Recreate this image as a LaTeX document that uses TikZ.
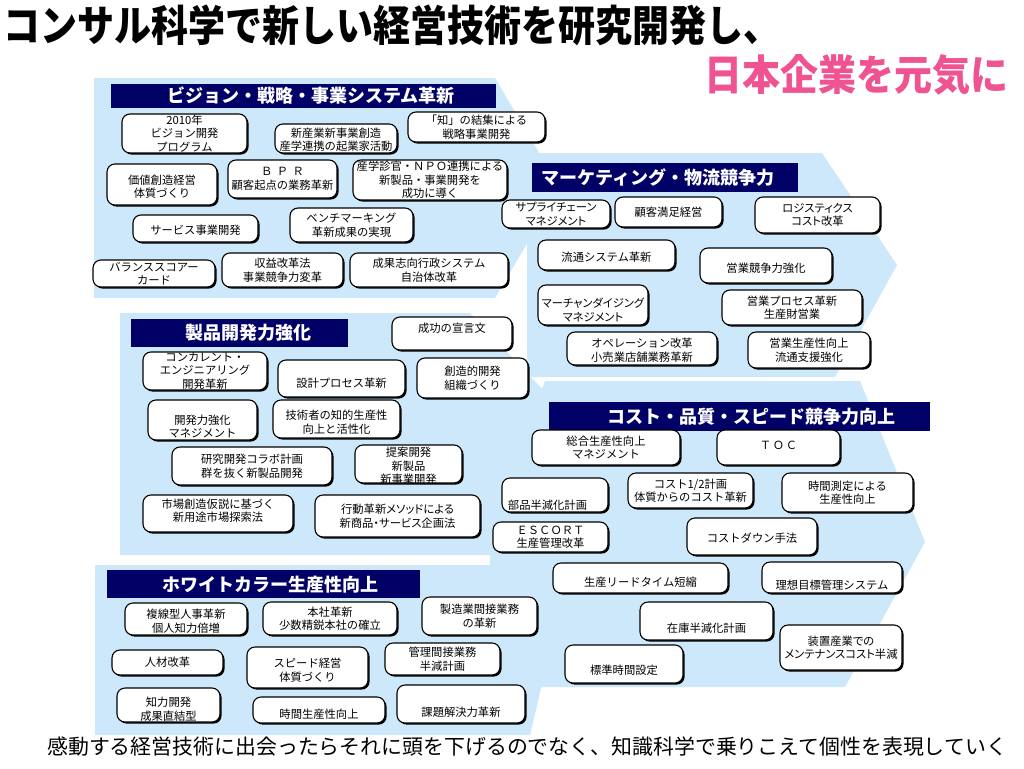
\documentclass[tikz,border=0pt]{standalone}
\usepackage{fontspec}
\usetikzlibrary{shadows}
\newfontfamily\jp{Noto Sans CJK JP}
\newfontfamily\jpp[RawFeature=+palt]{Noto Sans CJK JP}
\definecolor{lb}{RGB}{204,232,250}
\definecolor{navy}{RGB}{0,0,102}
\definecolor{pinkt}{RGB}{239,83,146}
\tikzset{
 bgshape/.style={fill=lb, draw=none},
 jbox/.style={draw=black, line width=1.1pt, fill=white, rounded corners=8pt, inner sep=0pt,
   drop shadow={shadow xshift=1.6pt, shadow yshift=-1.6pt, opacity=1, fill=black}},
 jtxt/.style={font=\jp\fontsize{11.3}{13.5}\selectfont, align=center, inner sep=0pt},
 pp/.style={font=\jpp\fontsize{11.3}{13.5}\selectfont},
 hdr/.style={fill=navy, draw=none, inner sep=0pt},
 htxt/.style={font=\jp\bfseries\fontsize{18}{20}\selectfont, text=white, inner sep=0pt},
}
\newcommand\mybox[7][]{%
 \node[jbox, minimum width={#5-#3}, minimum height={#6-#4}] (#2) at ({(#3+#5)/2},{(#4+#6)/2}) {};
 \node[jtxt,#1] (#2t) at (#2.center) {#7};
}
\newcommand\myhdr[8]{%
 \node[hdr, minimum width={#4-#2}, minimum height={#5-#3}] (#1) at ({(#2+#4)/2},{(#3+#5)/2}) {};
 \node[htxt] (#1t) at (#6,#7) {#8};
}
\begin{document}
\begin{tikzpicture}[x=1pt,y=-1pt]
\useasboundingbox (0,0) rectangle (1024,768);
\fill[white] (0,0) rectangle (1024,768);
% background arrows
\fill[bgshape] (94,78) -- (495,78) -- (560,188) -- (495,298) -- (94,298) -- cycle;
\fill[bgshape] (527,153) -- (822,153) -- (897,265) -- (835,377) -- (527,377) -- cycle;
\fill[bgshape] (120,313) -- (470,313) -- (585,434) -- (498,555) -- (120,555) -- cycle;
\fill[bgshape] (545,381) -- (860,381) -- (925,542) -- (845,687) -- (490,687) -- (490,520) -- cycle;
\fill[bgshape] (95,565) -- (510,565) -- (550,650) -- (530,735) -- (95,735) -- cycle;

% titles
\node[anchor=west, inner sep=0pt, font=\jp\bfseries\fontsize{37}{40}\selectfont] (title) at (3,25) {\scalebox{1}[1.15]{コンサル科学で新しい経営技術を研究開発し、}};
\node[anchor=west, inner sep=0pt, text=pinkt, font=\jp\bfseries\fontsize{38}{40}\selectfont] (sub) at (704,75) {\scalebox{1}[1.1]{日本企業を元気に}};
\node[anchor=west, inner sep=0pt, font=\jp\fontsize{20.9}{24}\selectfont] (foot) at (47,747) {感動する経営技術に出会ったらそれに頭を下げるのでなく、知識科学で乗りこえて個性を表現していく};

% Vision
\myhdr{hv}{111}{84}{496}{108}{311}{96}{ビジョン・戦略・事業システム革新}
\mybox{v1}{122}{114}{247}{153}{2010年\\ビジョン開発\\プログラム}
\mybox[yshift=-1pt]{v2}{275}{124}{397}{153}{新産業新事業創造\\産学連携の起業家活動}
\mybox{v3}{408}{112}{545}{142}{「知」の結集による\\戦略事業開発}
\mybox[yshift=-2pt]{v4}{107}{164}{217}{205}{価値創造経営\\体質づくり}
\mybox{v5}{228}{160}{337}{198}{Ｂ\hspace{4.5pt}Ｐ\hspace{4.5pt}Ｒ\\顧客起点の業務革新}
\mybox{v6}{353}{160}{507}{200}{産学診官・ＮＰＯ連携による\\新製品・事業開発を\\成功に導く}
\mybox[yshift=-1.5pt]{v7}{133}{215}{258}{242}{サービス事業開発}
\mybox{v8}{290}{208}{413}{242}{ベンチマーキング\\革新成果の実現}
\mybox{v9}{93}{260}{215}{287}{バランススコアー\\カード}
\mybox{v10}{222}{253}{343}{287}{収益改革法\\事業競争力変革}
\mybox{v11}{350}{253}{508}{287}{成果志向行政システム\\自治体改革}

% Marketing
\myhdr{hm}{532}{163}{798}{192}{658}{178}{マーケティング・物流競争力}
\mybox[pp]{m1}{502}{200}{610}{228}{サプライチェーン\\マネジメント}
\mybox{m2}{615}{197}{722}{227}{顧客満足経営}
\mybox[pp]{m3}{755}{197}{880}{233}{ロジスティクス\\コスト改革}
\mybox[yshift=-2pt]{m4}{538}{240}{675}{270}{流通システム革新}
\mybox[yshift=-2.5pt]{m5}{700}{248}{832}{283}{営業競争力強化}
\mybox[pp,yshift=-5pt]{m6}{538}{285}{648}{325}{マーチャンダイジング\\マネジメント}
\mybox{m7}{722}{290}{862}{325}{営業プロセス革新\\生産財営業}
\mybox[yshift=-1.5pt]{m8}{567}{332}{717}{365}{オペレーション改革\\小売業店舗業務革新}
\mybox{m9}{748}{332}{870}{368}{営業生産性向上\\流通支援強化}

% Product
\myhdr{hp}{131}{319}{348}{347}{248}{333}{製品開発力強化}
\mybox[yshift=5.5pt]{p1}{392}{317}{512}{350}{成功の宣言文}
\mybox{p2}{143}{352}{267}{390}{コンカレント・\\エンジニアリング\\開発革新}
\mybox[yshift=-4.5pt]{p3}{278}{360}{405}{397}{設計プロセス革新}
\mybox{p4}{417}{358}{528}{398}{創造的開発\\組織づくり}
\mybox[yshift=-6.5pt]{p5}{148}{400}{257}{440}{開発力強化\\マネジメント}
\mybox[yshift=-3pt]{p6}{273}{400}{400}{438}{技術者の知的生産性\\向上と活性化}
\mybox{p7}{172}{447}{332}{485}{研究開発コラボ計画\\群を抜く新製品開発}
\mybox[yshift=-2pt]{p8}{355}{445}{462}{483}{提案開発\\新製品\\新事業開発}
\mybox[yshift=3pt]{p9}{143}{495}{293}{532}{市場創造仮説に基づく\\新用途市場探索法}
\mybox[pp]{p10}{315}{495}{480}{537}{行動革新メソッドによる\\新商品・サービス企画法}

% Cost
\myhdr{hc}{549}{402}{930}{431}{751}{417}{コスト・品質・スピード競争力向上}
\mybox{c1}{532}{430}{680}{465}{総合生産性向上\\マネジメント}
\mybox[yshift=2.5pt]{c2}{717}{430}{840}{465}{Ｔ\hspace{1.7pt}Ｏ\hspace{1.7pt}Ｃ}
\mybox[xshift=-7.5pt,yshift=-10pt]{c3}{502}{478}{608}{512}{部品半減化計画}
\mybox{c4}{628}{473}{753}{508}{コスト1/2計画\\体質からのコスト革新}
\mybox{c5}{782}{473}{913}{512}{時間測定による\\生産性向上}
\mybox{c6}{493}{522}{608}{552}{ＥＳＣＯＲＴ\\生産管理改革}
\mybox[yshift=-1.5pt]{c7}{687}{518}{817}{555}{コストダウン手法}
\mybox[yshift=-4pt]{c8}{553}{563}{728}{593}{生産リードタイム短縮}
\mybox[yshift=-7.5pt]{c9}{762}{562}{902}{593}{理想目標管理システム}
\mybox[yshift=-7pt]{c10}{640}{602}{773}{640}{在庫半減化計画}
\mybox[pp]{c11}{780}{625}{902}{670}{装置産業での\\メンテナンスコスト半減}
\mybox[yshift=-6pt]{c12}{565}{645}{683}{683}{標準時間設定}

% White collar
\myhdr{hw}{107}{570}{420}{598}{270}{585}{ホワイトカラー生産性向上}
\mybox[yshift=-2pt]{w1}{125}{603}{247}{635}{複線型人事革新\\個人知力倍増}
\mybox{w2}{263}{602}{397}{635}{本社革新\\少数精鋭本社の確立}
\mybox{w3}{422}{597}{537}{635}{製造業間接業務\\の革新}
\mybox{w4}{112}{650}{223}{675}{人材改革}
\mybox[yshift=-2.5pt]{w5}{247}{647}{368}{688}{スピード経営\\体質づくり}
\mybox{w6}{385}{643}{500}{675}{管理間接業務\\半減計画}
\mybox[yshift=-4pt]{w7}{117}{688}{220}{722}{知力開発\\成果直結型}
\mybox[yshift=-4pt]{w8}{253}{697}{385}{723}{時間生産性向上}
\mybox[yshift=-8pt]{w9}{397}{685}{525}{723}{課題解決力革新}
\end{tikzpicture}
\end{document}
